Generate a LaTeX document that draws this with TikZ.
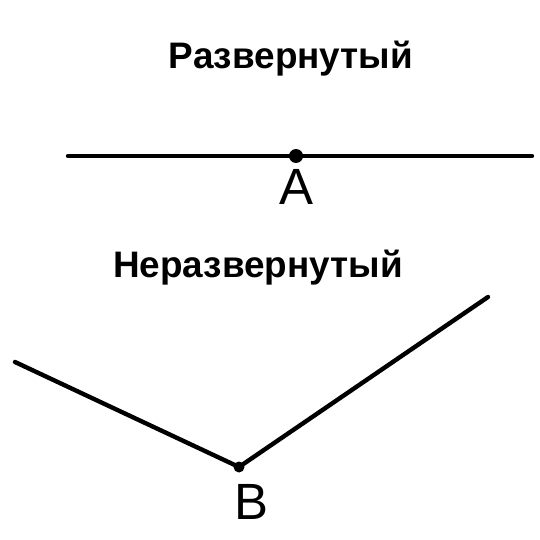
\documentclass[tikz,border=0pt]{standalone}
\usepackage{fontspec}
\setmainfont{Liberation Sans}
\usepackage{tikz}

\begin{document}
\begin{tikzpicture}[x=0.02cm,y=-0.02cm,
    title/.style={font=\fontsize{21}{23}\selectfont\bfseries,anchor=base,inner sep=0pt},
    letter/.style={font=\fontsize{29}{31}\selectfont,inner sep=0pt},
    ray/.style={line width=2.5pt,line cap=round},
    dot/.style={circle,fill=black,inner sep=0pt,minimum size=#1}]
    \useasboundingbox (0,0) rectangle (540,540);
    \node[title] (top) at (291,69) {Развернутый};
    \coordinate (A1) at (68,156);
    \coordinate (A2) at (532,156);
    \node[dot=0.28cm] (A) at (296,156) {};
    \draw[ray] (A1) -- (A2);
    \node[letter] (labA) at (296,187) {A};
    \node[title] (bottom) at (258,277) {Неразвернутый};
    \coordinate (B1) at (15,362);
    \coordinate (B2) at (488,297);
    \node[dot=0.22cm] (B) at (239,467) {};
    \draw[ray] (B1) -- (B.center) -- (B2);
    \node[letter] (labB) at (251,502) {B};
  \end{tikzpicture}
\end{document}
